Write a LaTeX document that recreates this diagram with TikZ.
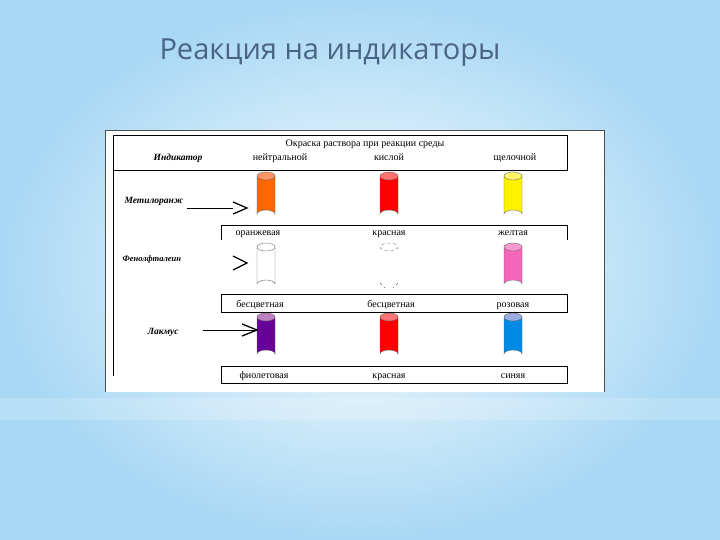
\documentclass[tikz,border=0pt]{standalone}
\usepackage{fontspec}
\setmainfont{Liberation Serif}
\newfontfamily\titlefont{Open Sans}
\definecolor{bgout}{HTML}{A8D8F4}
\definecolor{ttl}{HTML}{4A6486}
\begin{document}
\begin{tikzpicture}[x=1pt,y=-1pt,
  lbl/.style={font=\fontsize{10}{11}\selectfont,anchor=base},
  ind/.style={font=\fontsize{9.5}{11}\selectfont\bfseries\itshape,anchor=base},
  ln/.style={line width=0.8pt}]
\useasboundingbox (0,0) rectangle (720,540);
\shade[inner color=white,outer color=bgout] (0,0) rectangle (720,540);
\fill[white,opacity=0.18] (0,398) rectangle (720,420);
\node[anchor=base west,font=\titlefont\fontsize{29}{32}\selectfont,text=ttl] (title) at (156,60) {Реакция на индикаторы};
% panel
\fill[white] (105,130) rectangle (604,392);
\draw[ln,black!70] (105,392) -- (105,130) -- (604,130) -- (604,392);
% header
\draw[ln] (113,135) rectangle (567,170);
\node[lbl] (hd) at (365,147) {Окраска раствора при реакции среды};
\node[ind] (indh) at (178,161) {Индикатор};
\node[lbl] (c1) at (280,161) {нейтральной};
\node[lbl] (c2) at (389,161) {кислой};
\node[lbl] (c3) at (515,161) {щелочной};
\draw[ln] (113,170) -- (113,376);
% row boxes
\draw[ln] (221,240) -- (221,225) -- (567,225) -- (567,240);
\node[lbl] (r11) at (258,236) {оранжевая};
\node[lbl] (r12) at (389,236) {красная};
\node[lbl] (r13) at (513,236) {желтая};
\draw[ln] (221,294) rectangle (567,312);
\node[lbl] (r21) at (260,307) {бесцветная};
\node[lbl] (r22) at (391,307) {бесцветная};
\node[lbl] (r23) at (513,307) {розовая};
\draw[ln] (221,366) rectangle (567,383);
\node[lbl] (r31) at (264,378) {фиолетовая};
\node[lbl] (r32) at (389,378) {красная};
\node[lbl] (r33) at (513,378) {синяя};
% tubes
\newcommand\tube[5]{%
  \fill[#4,draw=black!60] (#1-9,#2) -- (#1-9,#3) arc[start angle=180,end angle=360,x radius=9,y radius=4] -- (#1+9,#2) -- cycle;
  \fill[#5,draw=black!60] (#1,#2) ellipse[x radius=9,y radius=4];}
\tube{266}{176}{214}{orange!80!red}{orange!60!red!60!white}
\tube{389}{176}{214}{red}{red!55!white}
\tube{513}{176}{214}{yellow}{yellow!60!white}
\tube{266}{247}{284}{white}{white}
\draw[dashed,black!60] (389,247) ellipse[x radius=9,y radius=4];
\draw[dashed,black!60] (380,283) -- (385,288) (398,283) -- (393,288);
\tube{513}{247}{284}{magenta!60!white}{magenta!40!white}
\tube{266}{317}{354}{violet!80!blue}{violet!50!white}
\tube{389}{317}{354}{red}{red!55!white}
\tube{513}{317}{354}{blue!40!cyan!90!black}{cyan!40!blue!40!white}
% indicators
\node[ind,anchor=base west] (m) at (121,204) {Метилоранж};
\node[ind,anchor=base west,font=\fontsize{8.5}{10}\selectfont\bfseries\itshape] (f) at (119,261) {Фенолфталеин};
\node[ind,anchor=base west] (l) at (144,334) {Лакмус};
\coordinate (ma) at (247,208);
\coordinate (fa) at (247,263);
\coordinate (la) at (257,330);
\draw (m.base east) ++(0,4) -- (233,208);
\draw[line width=1.3pt] (233,202) -- (ma) -- (233,214);
\draw[line width=1.3pt] (233,256) -- (fa) -- (233,270);
\draw (203,330) -- (la);
\draw[line width=1.3pt] (242,324) -- (la) -- (242,336);
\end{tikzpicture}
\end{document}
